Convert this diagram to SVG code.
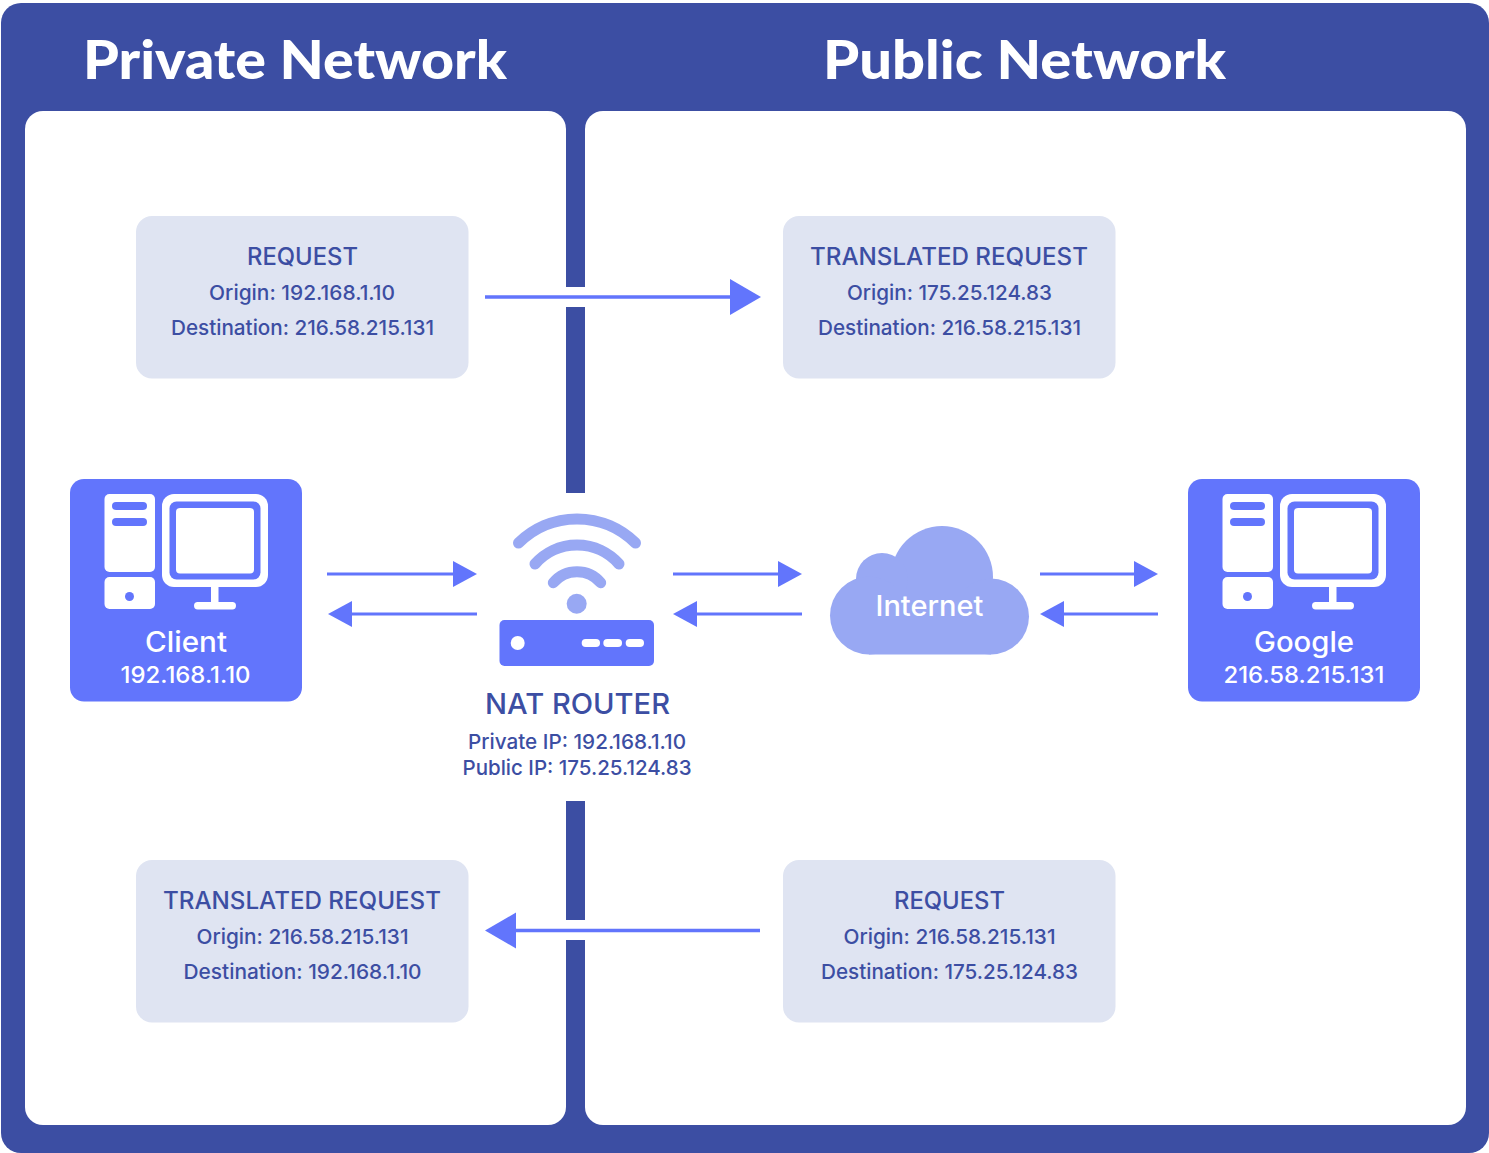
<svg xmlns="http://www.w3.org/2000/svg" xmlns:xlink="http://www.w3.org/1999/xlink" width="1489" height="1153" viewBox="0 0 1489 1153">
<style>
text{font-family:"Inter","Lato","Liberation Sans",sans-serif;text-anchor:middle}
.title{font-family:"Lato","Liberation Sans",sans-serif;font-size:53px;font-weight:900;fill:#fff}
.h{font-size:24px;font-weight:500;fill:#3c4ea3}
.s{font-size:20.500px;font-weight:500;fill:#3c4ea3}
.box{fill:#dfe4f2}
.w{fill:#fff}
.m{fill:#6275fc}
.l{fill:#98a8f3}
.nm{font-size:28px;font-weight:500;fill:#fff}
.ip{font-size:23px;font-weight:500;fill:#fff}
.conn line{stroke:#6275fc;stroke-width:3}
.big line{stroke-width:3.500}
.conn polygon{fill:#6275fc}
.arc{fill:none;stroke:#98a8f3;stroke-width:11;stroke-linecap:round}
</style>
<defs>
<g id="pc">
<rect class="m" x="70" y="479" width="232" height="222.500" rx="14"/>
<rect class="w" x="104.500" y="494" width="50.500" height="78" rx="5"/>
<rect class="m" x="112" y="502" width="35" height="8" rx="4"/>
<rect class="m" x="112" y="518" width="35" height="8" rx="4"/>
<rect class="w" x="104.500" y="577" width="50.500" height="32" rx="5"/>
<circle class="m" cx="129.500" cy="596.500" r="4.500"/>
<rect class="w" x="162" y="494" width="106" height="93" rx="12"/>
<rect class="m" x="169.500" y="501.500" width="91" height="78" rx="7"/>
<rect class="w" x="176" y="508" width="78" height="65.500" rx="4"/>
<rect class="w" x="211" y="586" width="7.500" height="18"/>
<rect class="w" x="194" y="602" width="42" height="7.500" rx="3.700"/>
</g>
</defs>
<rect x="1" y="3" width="1488" height="1150" rx="20" fill="#3c4ea3"/>
<rect class="w" x="25" y="111" width="541" height="1014" rx="18"/>
<rect class="w" x="585" y="111" width="881" height="1014" rx="18"/>
<rect class="w" x="566" y="287" width="19" height="20"/>
<rect class="w" x="566" y="493" width="19" height="308"/>
<rect class="w" x="566" y="920" width="19" height="20"/>
<text class="title" x="295" y="79" textLength="424" lengthAdjust="spacingAndGlyphs">Private Network</text>
<text class="title" x="1024.500" y="79" textLength="403" lengthAdjust="spacingAndGlyphs">Public Network</text>

<g id="box-request">
<rect class="box" x="136" y="216" width="332.500" height="162.500" rx="16"/>
<text class="h" x="302.500" y="265" textLength="111" lengthAdjust="spacingAndGlyphs">REQUEST</text>
<text class="s" x="302" y="300" textLength="186" lengthAdjust="spacingAndGlyphs">Origin: 192.168.1.10</text>
<text class="s" x="302.500" y="335" textLength="263" lengthAdjust="spacingAndGlyphs">Destination: 216.58.215.131</text>
</g>
<g id="box-translated-request">
<rect class="box" x="783" y="216" width="332.500" height="162.500" rx="16"/>
<text class="h" x="949" y="265" textLength="278" lengthAdjust="spacingAndGlyphs">TRANSLATED REQUEST</text>
<text class="s" x="949.500" y="300" textLength="205" lengthAdjust="spacingAndGlyphs">Origin: 175.25.124.83</text>
<text class="s" x="949.500" y="335" textLength="263" lengthAdjust="spacingAndGlyphs">Destination: 216.58.215.131</text>
</g>
<g id="box-translated-response">
<rect class="box" x="136" y="860" width="332.500" height="162.500" rx="16"/>
<text class="h" x="302" y="909" textLength="278" lengthAdjust="spacingAndGlyphs">TRANSLATED REQUEST</text>
<text class="s" x="302.500" y="944" textLength="212" lengthAdjust="spacingAndGlyphs">Origin: 216.58.215.131</text>
<text class="s" x="302.500" y="979" textLength="238" lengthAdjust="spacingAndGlyphs">Destination: 192.168.1.10</text>
</g>
<g id="box-response">
<rect class="box" x="783" y="860" width="332.500" height="162.500" rx="16"/>
<text class="h" x="949.500" y="909" textLength="111" lengthAdjust="spacingAndGlyphs">REQUEST</text>
<text class="s" x="949.500" y="944" textLength="212" lengthAdjust="spacingAndGlyphs">Origin: 216.58.215.131</text>
<text class="s" x="949.500" y="979" textLength="257" lengthAdjust="spacingAndGlyphs">Destination: 175.25.124.83</text>
</g>

<g id="client">
<use xlink:href="#pc" href="#pc"/>
<text class="nm" x="186" y="652" textLength="82" lengthAdjust="spacingAndGlyphs">Client</text>
<text class="ip" x="185.500" y="683" textLength="130" lengthAdjust="spacingAndGlyphs">192.168.1.10</text>
</g>
<g id="google">
<use xlink:href="#pc" href="#pc" x="1118"/>
<text class="nm" x="1304" y="652" textLength="100" lengthAdjust="spacingAndGlyphs">Google</text>
<text class="ip" x="1304" y="683" textLength="161" lengthAdjust="spacingAndGlyphs">216.58.215.131</text>
</g>
<g id="router">
<path class="arc" d="M518.500,543A83,83 0 0 1 635.500,543"/>
<path class="arc" d="M535,564A56,56 0 0 1 619,564"/>
<path class="arc" d="M553.300,582.700A31,31 0 0 1 600.700,582.700"/>
<circle class="l" cx="576.700" cy="603.700" r="10"/>
<rect class="m" x="499.500" y="620" width="154.500" height="46" rx="5"/>
<circle class="w" cx="517.700" cy="643" r="7"/>
<rect class="w" x="581.700" y="639" width="18.300" height="8" rx="4"/>
<rect class="w" x="603.300" y="639" width="18.700" height="8" rx="4"/>
<rect class="w" x="625.700" y="639" width="18.300" height="8" rx="4"/>
<text x="577.500" y="714" font-size="29" font-weight="500" fill="#3c4ea3" textLength="185" lengthAdjust="spacingAndGlyphs">NAT ROUTER</text>
<text class="s" x="577" y="749" textLength="218" lengthAdjust="spacingAndGlyphs">Private IP: 192.168.1.10</text>
<text class="s" x="577" y="775" textLength="229" lengthAdjust="spacingAndGlyphs">Public IP: 175.25.124.83</text>
</g>
<g id="internet">
<circle class="l" cx="942" cy="577" r="51"/>
<circle class="l" cx="882" cy="579" r="26"/>
<circle class="l" cx="869" cy="615.500" r="39"/>
<circle class="l" cx="991" cy="616.500" r="38"/>
<rect class="l" x="869" y="590" width="122" height="64.500"/>
<text x="929.500" y="615.500" font-size="28" font-weight="500" fill="#fff" textLength="108" lengthAdjust="spacingAndGlyphs">Internet</text>
</g>

<g id="connectors" class="conn">
<g class="big"><line x1="485" y1="297" x2="732" y2="297"/><polygon points="730,279 761,297 730,315"/>
<line x1="760" y1="930.500" x2="513" y2="930.500"/><polygon points="516,912.500 485,930.500 516,948.500"/></g>
<line x1="327" y1="574" x2="455" y2="574"/><polygon points="453,561 477,574 453,587"/>
<line x1="477" y1="614" x2="350" y2="614"/><polygon points="352,601 328,614 352,627"/>
<line x1="673" y1="574" x2="780" y2="574"/><polygon points="778,561 802,574 778,587"/>
<line x1="802" y1="614" x2="695" y2="614"/><polygon points="697,601 673,614 697,627"/>
<line x1="1040" y1="574" x2="1136" y2="574"/><polygon points="1134,561 1158,574 1134,587"/>
<line x1="1158" y1="614" x2="1062" y2="614"/><polygon points="1064,601 1040,614 1064,627"/>
</g>
</svg>
